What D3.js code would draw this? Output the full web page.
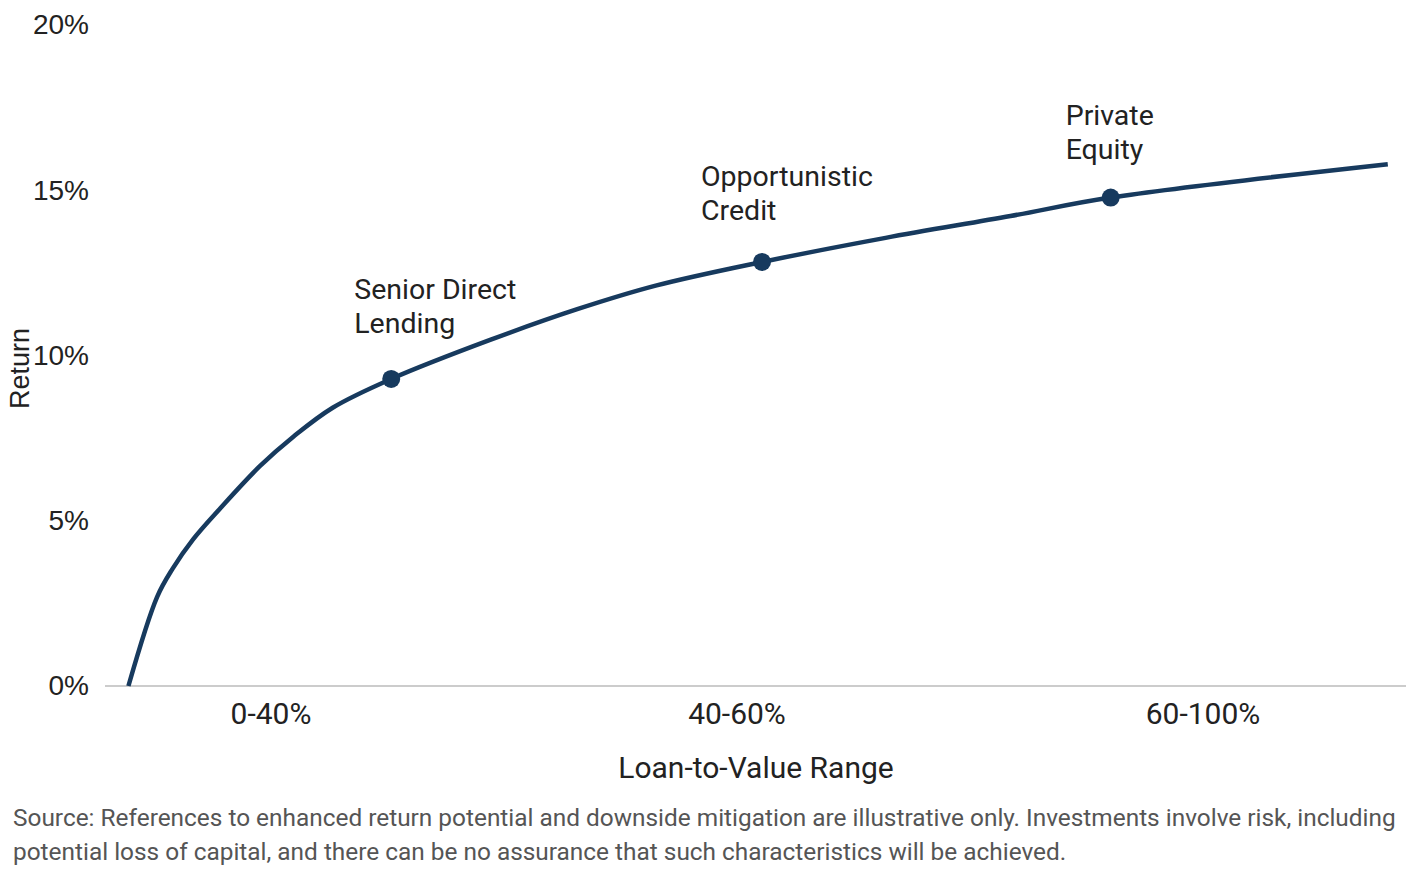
<!DOCTYPE html>
<html>
<head>
<meta charset="utf-8">
<script src="https://cdn.jsdelivr.net/npm/d3@7"></script>
<style>
  body { margin: 0; background: #fff; }
  svg { display: block; }
</style>
</head>
<body>
<svg id="chart" width="1416" height="874"></svg>
<script>
// curve position (abstract LTV position 0-100) and return (%)
const curveX = [1.8, 4.0, 5.2, 6.8, 8.8, 11.9, 14.5, 17.5, 22.0, 29.6, 36.3, 42.4, 50.5, 60.0, 69.6, 77.3, 98.6];
const curveY = [0, 2.69, 3.55, 4.45, 5.35, 6.65, 7.55, 8.42, 9.29, 10.47, 11.40, 12.12, 12.83, 13.56, 14.22, 14.78, 15.79];

const strategyNames = [['Senior Direct', 'Lending'], ['Opportunistic', 'Credit'], ['Private', 'Equity']];
const strategyX = [22.0, 50.5, 77.3];
const strategyY = [9.29, 12.83, 14.78];

const ltvRanges = ['0-40%', '40-60%', '60-100%'];
const yTicks = [0, 5, 10, 15, 20];

const footnote = [
  'Source: References to enhanced return potential and downside mitigation are illustrative only. Investments involve risk, including',
  'potential loss of capital, and there can be no assurance that such characteristics will be achieved.'
];

const navy = '#173a5e';
const svg = d3.select('#chart');

const x = d3.scaleLinear().domain([0, 100]).range([105, 1406]);
const y = d3.scaleLinear().domain([0, 20]).range([686, 25]);
const band = d3.scaleBand().domain(ltvRanges).range([38, 1436]);

// y axis labels
const yAxis = svg.append('g')
  .attr('transform', `translate(${x(0)},0)`)
  .call(d3.axisLeft(y).tickValues(yTicks).tickSize(0).tickPadding(16).tickFormat(d => d + '%'));
yAxis.select('.domain').remove();
yAxis.selectAll('text')
  .style('font-family', '"Liberation Sans", Arial, sans-serif')
  .style('font-size', '28px')
  .attr('fill', '#222');

// baseline
svg.append('line')
  .attr('x1', x(0)).attr('x2', x(100))
  .attr('y1', y(0)).attr('y2', y(0))
  .attr('stroke', '#cccccc')
  .attr('stroke-width', 2);

// x category labels
const xAxis = svg.append('g')
  .attr('transform', `translate(0,${y(0)})`)
  .call(d3.axisBottom(band).tickSize(0).tickPadding(17));
xAxis.select('.domain').remove();
xAxis.selectAll('text')
  .style('font-family', 'Roboto, sans-serif')
  .style('font-size', '30px')
  .attr('fill', '#222');

svg.append('text')
  .attr('x', 756).attr('y', 778)
  .attr('text-anchor', 'middle')
  .style('font-family', 'Roboto, sans-serif')
  .style('font-size', '30px')
  .attr('fill', '#222')
  .text('Loan-to-Value Range');

svg.append('text')
  .attr('transform', `translate(29,${(y(0) + y(20)) / 2 + 13}) rotate(-90)`)
  .attr('text-anchor', 'middle')
  .style('font-family', '"Liberation Sans", Arial, sans-serif')
  .style('font-size', '27px')
  .attr('fill', '#222')
  .text('Return');

// curve
const pts = curveX.map((v, i) => [v, curveY[i]]);
const line = d3.line()
  .x(d => x(d[0]))
  .y(d => y(d[1]))
  .curve(d3.curveCatmullRom.alpha(0.5));

svg.append('path')
  .datum(pts)
  .attr('d', line)
  .attr('fill', 'none')
  .attr('stroke', navy)
  .attr('stroke-width', 4.5);

// strategy dots + labels
const labelShift = [[-37, -46], [-61, -42], [-45, -39]];

svg.selectAll('circle.strategy')
  .data(strategyX)
  .enter().append('circle')
  .attr('class', 'strategy')
  .attr('cx', d => x(d))
  .attr('cy', (d, i) => y(strategyY[i]))
  .attr('r', 9)
  .attr('fill', navy);

strategyNames.forEach((lines, i) => {
  const t = svg.append('text')
    .attr('x', x(strategyX[i]) + labelShift[i][0])
    .attr('y', y(strategyY[i]) + labelShift[i][1] - 34)
    .style('font-family', 'Roboto, sans-serif')
    .style('font-size', '28.5px')
    .attr('fill', '#222');
  lines.forEach((l, j) => {
    t.append('tspan')
      .attr('x', x(strategyX[i]) + labelShift[i][0])
      .attr('dy', j === 0 ? 0 : 34)
      .text(l);
  });
});

// footnote
svg.selectAll('text.note')
  .data(footnote)
  .enter().append('text')
  .attr('class', 'note')
  .attr('x', 13)
  .attr('y', (d, i) => 826 + i * 34)
  .style('font-family', 'Roboto, sans-serif')
  .style('font-size', '24.4px')
  .attr('fill', '#555')
  .text(d => d);
</script>
</body>
</html>
